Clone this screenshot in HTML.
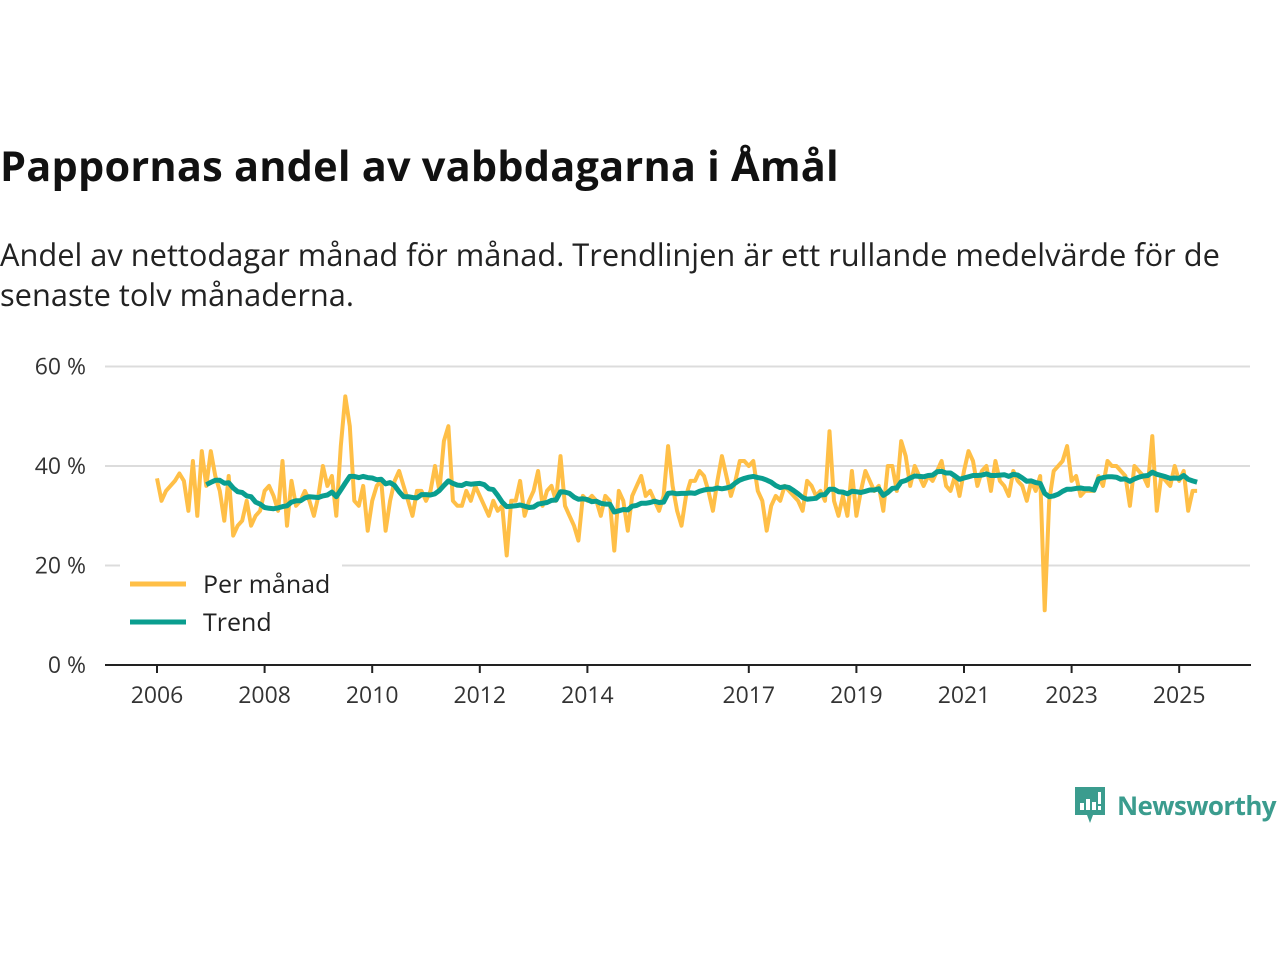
<!DOCTYPE html>
<html><head><meta charset="utf-8">
<style>
body{margin:0;width:1280px;height:960px;background:#fff;font-family:"Open Sans","Liberation Sans","DejaVu Sans",sans-serif;overflow:hidden;position:relative;color:#111}
h1{position:absolute;left:0;top:138px;margin:0;font-size:41.5px;font-weight:bold;letter-spacing:0.2px;white-space:nowrap}
.sub{position:absolute;left:0;top:235px;margin:0;font-size:30.8px;line-height:40px;color:#222;width:1250px}
svg{position:absolute;left:0;top:0}
.logo{position:absolute;left:1073px;top:785px;display:flex;align-items:center}
.logo span{font-size:26px;color:#3b9c8e;font-weight:bold;margin-left:10px;letter-spacing:-0.6px}
</style></head><body>
<h1>Pappornas andel av vabbdagarna i Åmål</h1>
<p class="sub">Andel av nettodagar månad för månad. Trendlinjen är ett rullande medelvärde för de senaste tolv månaderna.</p>
<svg id="chart" width="1280" height="960"></svg>
<div class="logo">
<svg width="34" height="40" viewBox="0 0 34 40" style="position:static"><path d="M2 2h30v28H20l-3 8-3-8H2z" fill="#3b9c8e"/><rect x="7" y="18" width="4" height="7" fill="#fff"/><rect x="13" y="14" width="4" height="11" fill="#fff"/><rect x="19" y="17" width="4" height="8" fill="#fff"/><rect x="25" y="7" width="3" height="12" fill="#fff"/><rect x="25" y="21" width="3" height="4" fill="#fff"/></svg>
<span>Newsworthy</span></div>
<script>
const startYear = 2006;
const monthly = [
37.5,33,35,36,37,38.5,37,31,41,30,43,36,
43,38,35,29,38,26,28,29,33,28,30,31,
35,36,34,31,41,28,37,32,33,35,33,30,
34,40,36,38,30,44,54,48,33,32,36,27,
33,36,37,27,33,37,39,36,33,30,35,35,
33,35,40,35,45,48,33,32,32,35,33,36,
34,32,30,33,31,32,22,33,33,37,30,33,
35,39,32,35,36,33,42,32,30,28,25,34,
33,34,33,30,34,33,23,35,33,27,34,36,
38,34,35,33,31,34,44,36,31,28,34,37,
37,39,38,35,31,37,42,38,34,37,41,41,
40,41,35,33,27,32,34,33,36,35,34,33,
31,37,36,34,35,33,47,33,30,34,30,39,
30,35,39,37,35,36,31,40,40,35,45,42,
36,40,38,36,38,37,39,41,36,35,38,34,
39,43,41,36,39,40,35,41,37,36,34,39,
37,36,33,37,35,38,11,33,39,40,41,44,
37,38,34,35,35,35,38,36,41,40,40,39,
38,32,40,39,38,36,46,31,38,37,36,40,
37,39,31,35,35];
const yTicks = [0,20,40,60];
const yTickLabels = ["0 %","20 %","40 %","60 %"];
const xTicks = [2006,2008,2010,2012,2014,2017,2019,2021,2023,2025];

const svg = document.getElementById('chart');
const NS = 'http://www.w3.org/2000/svg';
const x = t => 157 + (t - startYear) * 53.8;
const y = v => 665 - v * 4.975;
function mk(tag, attrs){const e=document.createElementNS(NS,tag);for(const k in attrs)e.setAttribute(k,attrs[k]);svg.appendChild(e);return e;}

yTicks.forEach((v,i)=>{
  if(v>0){const g=mk('line',{x1:105,x2:1250,y1:y(v),y2:y(v),stroke:'#dcdcdc','stroke-width':2});
  
  }
  const t=mk('text',{x:86,y:y(v)+8,'text-anchor':'end','font-size':23,fill:'#333'});
  t.textContent=yTickLabels[i];
  
  
});
const ax=mk('line',{x1:105,x2:1251,y1:665,y2:665,stroke:'#222','stroke-width':2});


xTicks.forEach(yr=>{
  const tk=mk('line',{x1:x(yr),x2:x(yr),y1:665,y2:673,stroke:'#222','stroke-width':2});
  
  
  const t=mk('text',{x:x(yr),y:703,'text-anchor':'middle','font-size':23,fill:'#333'});
  t.textContent=yr;
  
  
});
const mx = i => x(startYear + i/12);
const mp = monthly.map((v,i)=>mx(i).toFixed(1)+','+y(v).toFixed(1)).join(' ');
const l1=mk('polyline',{points:mp,fill:'none',stroke:'#ffbf47','stroke-width':4,'stroke-linejoin':'round'});


const tp=[];
for(let i=11;i<monthly.length;i++){let s=0;for(let j=i-11;j<=i;j++)s+=monthly[j];tp.push(mx(i).toFixed(1)+','+y(s/12).toFixed(1));}
const l2=mk('polyline',{points:tp.join(' '),fill:'none',stroke:'#0a9e8f','stroke-width':5,'stroke-linejoin':'round'});



const bg=mk('rect',{x:120,y:562,width:222,height:82,fill:'#fff'});


[['Per månad','#ffbf47',584],['Trend','#0a9e8f',622]].forEach(([lab,c,yy])=>{
  const s=mk('line',{x1:130,x2:186,y1:yy,y2:yy,stroke:c,'stroke-width':5});
  
  
  const t=mk('text',{x:203,y:yy+9,'font-size':25,fill:'#222'});
  t.textContent=lab;
  
  
});
</script>
</body></html>
